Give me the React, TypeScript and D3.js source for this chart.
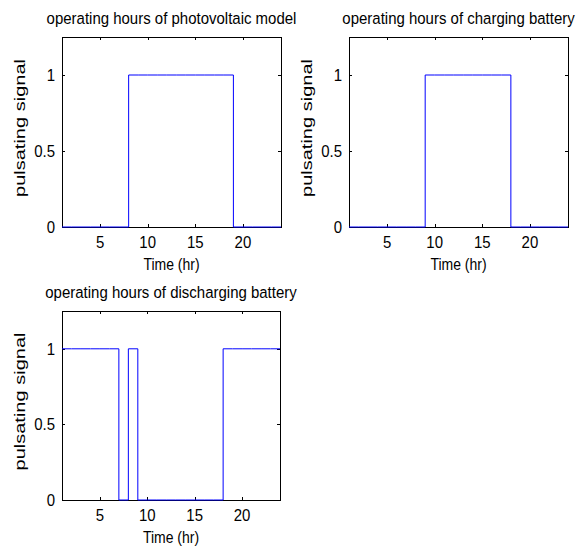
import React from "react";
import * as d3 from "d3";

const hours = [1, 2, 3, 4, 5, 6, 7, 8, 9, 10, 11, 12, 13, 14, 15, 16, 17, 18, 19, 20, 21, 22, 23, 24];
const pvSignal = [0, 0, 0, 0, 0, 0, 0, 1, 1, 1, 1, 1, 1, 1, 1, 1, 1, 1, 0, 0, 0, 0, 0, 0];
const chargeSignal = [0, 0, 0, 0, 0, 0, 0, 0, 1, 1, 1, 1, 1, 1, 1, 1, 1, 0, 0, 0, 0, 0, 0, 0];
const dischargeSignal = [1, 1, 1, 1, 1, 1, 0, 1, 0, 0, 0, 0, 0, 0, 0, 0, 0, 1, 1, 1, 1, 1, 1, 1];

const xTicks = [5, 10, 15, 20];
const yTicks = [0, 0.5, 1];
const xDomain = [1, 24];
const yDomain = [0, 1.25];

const titles = [
  "operating hours of photovoltaic model",
  "operating hours of charging battery",
  "operating hours of discharging battery",
];
const xLabel = "Time (hr)";
const yLabel = "pulsating signal";

const layouts = [
  { left: 62, top: 37, width: 219, height: 190 },
  { left: 349, top: 37, width: 219, height: 190 },
  { left: 62, top: 311, width: 218, height: 189 },
];

const FONT = "'Liberation Sans', Arial, Helvetica, sans-serif";
const SY = 1.12;

function HText({ x, y, anchor, size, children, dy }: { x: number; y: number; anchor: string; size: number; children: React.ReactNode; dy?: string }) {
  return (
    <text
      transform={`translate(${x},${y}) scale(1,${SY})`}
      dy={dy}
      textAnchor={anchor as any}
      fontFamily={FONT}
      fontSize={size}
      fill="#000"
    >
      {children}
    </text>
  );
}

function Panel({ title, values, layout }: { title: string; values: number[]; layout: { left: number; top: number; width: number; height: number } }) {
  const { left, top, width, height } = layout;
  const x = d3.scaleLinear().domain(xDomain).range([left, left + width]);
  const y = d3.scaleLinear().domain(yDomain).range([top + height, top]);
  const data = hours.map((h, i) => [h, values[i]] as [number, number]);
  const line = d3
    .line<[number, number]>()
    .x((d) => x(d[0]))
    .y((d) => y(d[1]))
    .curve(d3.curveStepAfter);
  const bottom = top + height;
  const tl = 3;
  return (
    <g>
      {xTicks.map((t) => (
        <g key={"x" + t}>
          <line x1={Math.round(x(t)) + 0.5} x2={Math.round(x(t)) + 0.5} y1={bottom} y2={bottom - tl} stroke="#000" strokeWidth={1} />
          <line x1={Math.round(x(t)) + 0.5} x2={Math.round(x(t)) + 0.5} y1={top} y2={top + tl} stroke="#000" strokeWidth={1} />
          <HText x={x(t)} y={bottom + 21} anchor="middle" size={15}>
            {t}
          </HText>
        </g>
      ))}
      {yTicks.map((t) => (
        <g key={"y" + t}>
          <line x1={left} x2={left + tl} y1={Math.round(y(t)) + 0.5} y2={Math.round(y(t)) + 0.5} stroke="#000" strokeWidth={1} />
          <line x1={left + width} x2={left + width - tl} y1={Math.round(y(t)) + 0.5} y2={Math.round(y(t)) + 0.5} stroke="#000" strokeWidth={1} />
          <HText x={left - 7} y={y(t) + 6} anchor="end" size={15}>
            {t}
          </HText>
        </g>
      ))}
      <rect x={left + 0.5} y={top + 0.5} width={width} height={height} fill="none" stroke="#000" strokeWidth={1} />
      <path d={line(data) || ""} fill="none" stroke="#0000ff" strokeWidth={1} />
      <HText x={left + width / 2} y={top - 13} anchor="middle" size={15}>
        {title}
      </HText>
      <HText x={left + width / 2} y={bottom + 43} anchor="middle" size={14}>
        {xLabel}
      </HText>
      <text
        transform={`translate(${left - 37},${top + height / 2 - 4}) rotate(-90)`}
        textAnchor="middle"
        fontFamily={FONT}
        fontSize={15}
        textLength={138}
        lengthAdjust="spacingAndGlyphs"
        fill="#000"
      >
        {yLabel}
      </text>
    </g>
  );
}

export default function App() {
  const series = [pvSignal, chargeSignal, dischargeSignal];
  return (
    <svg width={580} height={549} style={{ position: "absolute", left: 0, top: 0, background: "#fff" }}>
      <rect x={0} y={0} width={580} height={549} fill="#fff" />
      {series.map((s, i) => (
        <Panel key={i} title={titles[i]} values={s} layout={layouts[i]} />
      ))}
    </svg>
  );
}
